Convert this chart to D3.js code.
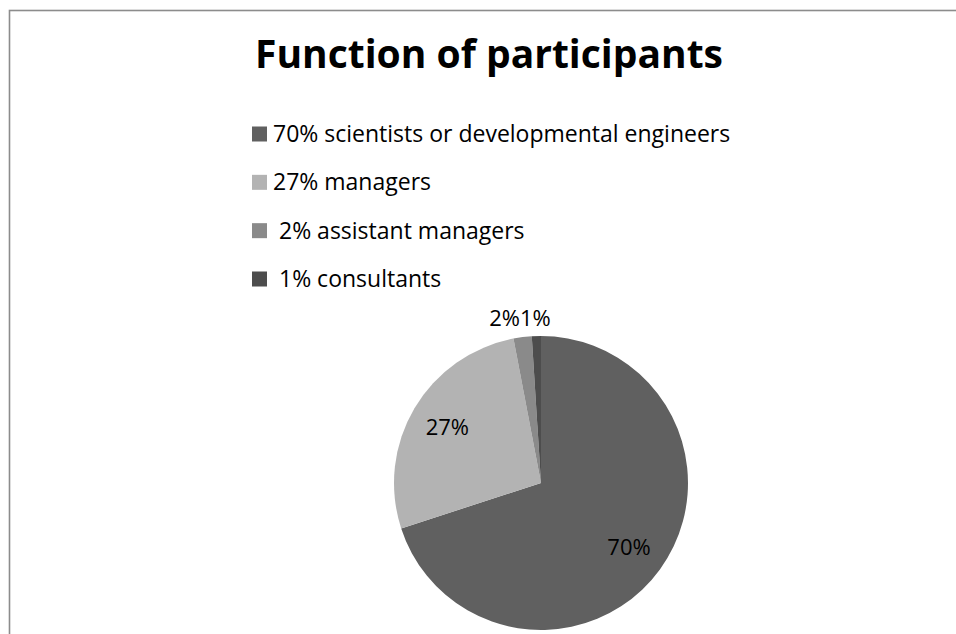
<!DOCTYPE html>
<html>
<head>
<meta charset="utf-8">
<script src="https://cdn.jsdelivr.net/npm/d3@7"></script>
<style>
  body { margin: 0; background: #fff; }
  svg { display: block; }
  text { font-family: "Open Sans", "Liberation Sans", sans-serif; }
</style>
</head>
<body>
<div id="chart"></div>
<script>
// chart values
var categories = ["scientists or developmental engineers", "managers", "assistant managers", "consultants"];
var percents = [70, 27, 2, 1];
var legendLabels = ["70% scientists or developmental engineers", "27% managers", " 2% assistant managers", " 1% consultants"];
var sliceColors = ["#606060", "#b3b3b3", "#8a8a8a", "#4d4d4d"];
var title = "Function of participants";

var width = 956, height = 634;
var cx = 541, cy = 483, radius = 147;

var svg = d3.select("#chart").append("svg")
    .attr("width", width)
    .attr("height", height);

// outer frame, runs off the right and bottom edges
svg.append("rect")
    .attr("x", 9.5)
    .attr("y", 10.5)
    .attr("width", 960)
    .attr("height", 640)
    .style("fill", "#fff")
    .style("stroke", "#8c8c8c")
    .style("stroke-width", 1.6);

var titleText = svg.append("text")
    .attr("x", 489)
    .attr("y", 68)
    .attr("text-anchor", "middle")
    .style("font-size", "32px")
    .style("font-weight", "bold")
    .style("fill", "#000")
    .text(title);

// fit the title to the width it has in the original (~468px)
var tw = titleText.node().getComputedTextLength();
titleText.style("font-size", (32 * 468 / tw) + "px");

// legend
var legendY = d3.scalePoint()
    .domain(d3.range(legendLabels.length))
    .range([134, 279]);

var legend = svg.selectAll(".legend")
    .data(legendLabels)
  .enter().append("g")
    .attr("class", "legend")
    .attr("transform", function(d, i) { return "translate(252," + legendY(i) + ")"; });

legend.append("rect")
    .attr("x", 0)
    .attr("y", -7.5)
    .attr("width", 15)
    .attr("height", 15)
    .style("fill", function(d, i) { return sliceColors[i]; });

legend.append("text")
    .attr("x", 21)
    .attr("y", 8)
    .attr("xml:space", "preserve")
    .style("font-size", "23px")
    .style("fill", "#000")
    .text(function(d) { return d; });

// pie
var pie = d3.pie().sort(null).value(function(d) { return d; });
var arcs = pie(percents);

var arc = d3.arc().innerRadius(0).outerRadius(radius);
var inLabel = d3.arc().innerRadius(radius * 0.74).outerRadius(radius * 0.74);
var outLabel = d3.arc().innerRadius(radius * 1.13).outerRadius(radius * 1.13);

var g = svg.append("g").attr("transform", "translate(" + cx + "," + cy + ")");

g.selectAll(".slice")
    .data(arcs)
  .enter().append("path")
    .attr("class", "slice")
    .attr("d", arc)
    .style("fill", function(d, i) { return sliceColors[i]; });

// labels: big slices inside, small slices outside the rim
var labels = arcs.map(function(d) {
    var inside = d.value >= 10;
    var p = inside ? inLabel.centroid(d) : outLabel.centroid(d);
    return { text: d.value + "%", x: p[0], y: p[1], inside: inside, anchor: "middle" };
});

// the two small outside labels sit on top of each other, so butt them together
var outs = labels.filter(function(l) { return !l.inside; });
if (outs.length == 2) {
    var mid = (outs[0].x + outs[1].x) / 2 - 8;
    outs[0].x = mid; outs[0].anchor = "end";
    outs[1].x = mid; outs[1].anchor = "start";
    outs[1].y = outs[0].y;
}

g.selectAll(".pct")
    .data(labels)
  .enter().append("text")
    .attr("class", "pct")
    .attr("x", function(d) { return d.x; })
    .attr("y", function(d) { return d.y; })
    .attr("dy", "0.35em")
    .attr("text-anchor", function(d) { return d.anchor; })
    .style("font-size", "22px")
    .style("fill", "#000")
    .text(function(d) { return d.text; });
</script>
</body>
</html>
